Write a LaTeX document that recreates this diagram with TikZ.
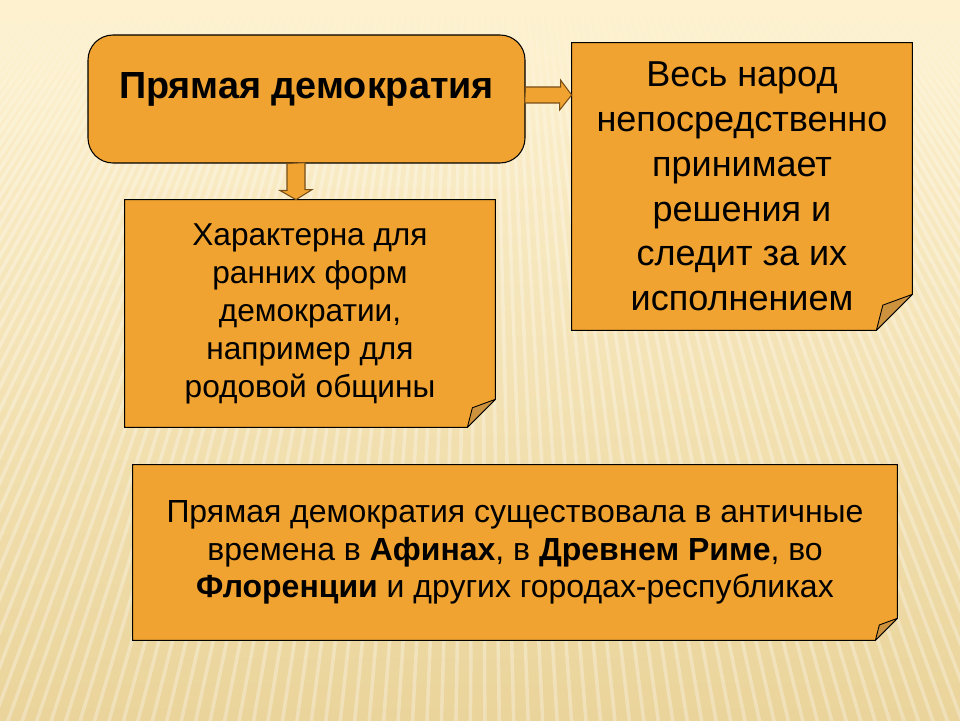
\documentclass[tikz,border=0pt]{standalone}
\usepackage{fontspec}
\setmainfont{Liberation Sans}
\definecolor{boxorange}{RGB}{240,163,48}
\definecolor{foldbrown}{RGB}{204,146,62}
\definecolor{arrowedge}{RGB}{120,78,24}
\definecolor{bgtop}{RGB}{253,241,207}
\definecolor{bgbottom}{RGB}{234,212,155}
\usetikzlibrary{calc,backgrounds,fadings}

\begin{document}
\begin{tikzpicture}[
      headbox/.style={draw, fill=boxorange, line width=0.6pt, rounded corners=0.5cm,
                      minimum width=8.74cm, minimum height=2.56cm,
                      font=\bfseries\fontsize{21.5}{26}\selectfont,
                      text height=0.56cm, text depth=0.56cm},
      notebox/.style={align=center, inner sep=0pt},
      notedraw/.style={fill=boxorange, draw=black, line width=0.6pt},
      fold/.style={fill=foldbrown, draw=black, line width=0.5pt, line join=round},
      blockarrow/.style={fill=boxorange, draw=arrowedge, line width=0.6pt}
    ]
      \useasboundingbox (0,0) rectangle (19.2,14.4);
      % striped backdrop
      \begin{scope}[on background layer]
        \shade[top color=bgtop, bottom color=bgbottom] (0,0) rectangle (19.2,14.4);
        \clip (0,0) rectangle (19.2,14.4);
        \foreach \x in {-14,-13.7,...,33}
          \draw[white, opacity=0.3, line width=2pt] (9.6,26) -- (\x,-1);
        \fill[bgtop, path fading=south] (0,11.2) rectangle (19.2,14.4);
      \end{scope}

      \node[headbox] (title) at (6.13,12.42) {Прямая демократия};
      \node[notebox, minimum width=6.8cm, minimum height=5.74cm,
            font=\fontsize{20.5}{25.5}\selectfont] (people) at (14.84,10.67)
            {Весь народ\\непосредственно\\принимает\\решения и\\следит за их\\исполнением};
      \node[notebox, minimum width=7.4cm, minimum height=4.54cm,
            font=\fontsize{18}{21.6}\selectfont] (feature) at (6.2,8.13)
            {Характерна для\\ранних форм\\демократии,\\например для\\родовой общины};
      \node[notebox, minimum width=15.28cm, minimum height=3.5cm,
            font=\fontsize{18.2}{21.3}\selectfont] (history) at (10.3,3.35)
            {Прямая демократия существовала в античные\\
             времена в \textbf{Афинах}, в \textbf{Древнем Риме}, во\\
             \textbf{Флоренции} и других городах-республиках};

      % folded-corner boxes
      \begin{scope}[on background layer]
        \foreach \n/\f in {people/0.72, feature/0.56, history/0.44}{
          \draw[notedraw] (\n.north west) -- (\n.north east) -- ($(\n.south east)+(0,\f)$)
            -- ($(\n.south east)+(-\f,0)$) -- (\n.south west) -- cycle;
          \draw[fold] ($(\n.south east)+(-\f,0)$) -- ($(\n.south east)+(-0.82*\f,0.7*\f)$)
            -- ($(\n.south east)+(0,\f)$) -- cycle;
        }
      \end{scope}

      \draw[blockarrow] ($(title.east)+(0,0.24)$) -- ++(0.7,0) -- ++(0,0.14)
        -- ($(people.west|-title.east)+(0,0.08)$) -- ++(-0.24,-0.3) -- ++(0,0.14) -- ++(-0.7,0) -- cycle;
      \draw[blockarrow] ($(title.south)+(-0.39,0)$) -- ++(0,-0.54) -- ++(-0.14,0)
        -- ($(feature.north)+(-0.28,0)$) -- ++(0.32,0.2) -- ++(-0.14,0) -- ++(0,0.54) -- cycle;
    \end{tikzpicture}
\end{document}
